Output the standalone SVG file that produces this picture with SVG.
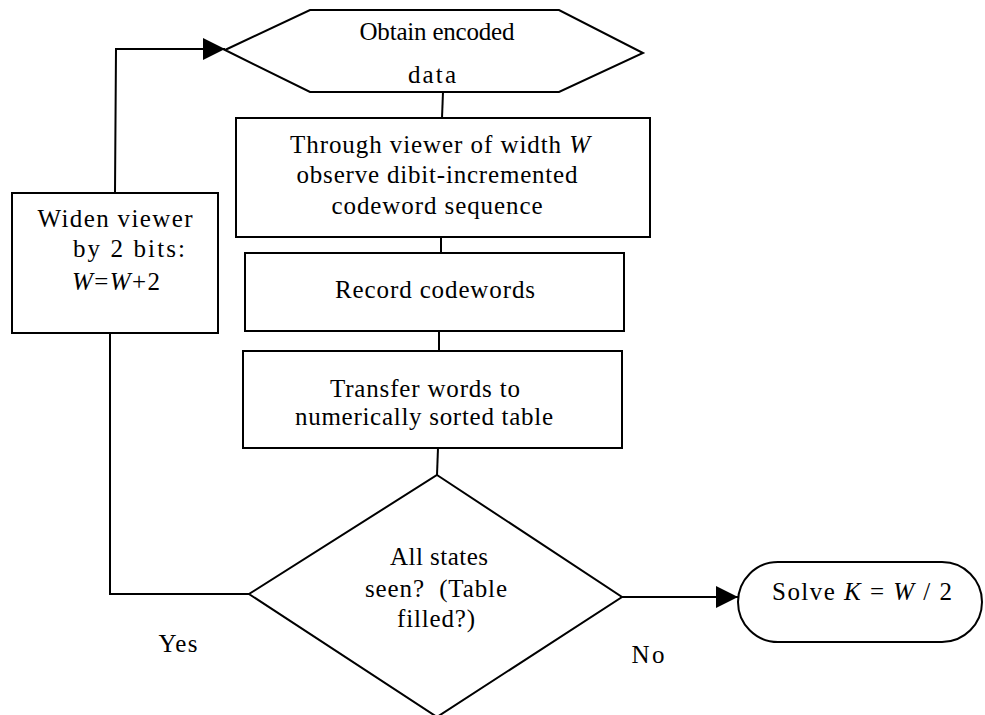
<svg xmlns="http://www.w3.org/2000/svg" width="985" height="715" viewBox="0 0 985 715">
<style>
.s{fill:#fff;stroke:#000;stroke-width:2}
.c{fill:none;stroke:#000;stroke-width:2}
text{font-family:"Liberation Serif","Times New Roman",serif;font-size:25px;fill:#000;text-anchor:middle}
.i{font-style:italic}
</style>
<defs>
<marker id="ah" markerWidth="22" markerHeight="22" viewBox="0 0 22 22" refX="22" refY="11" orient="auto" markerUnits="userSpaceOnUse">
<path d="M0,0 L22,11 L0,22 Z" fill="#000"/>
</marker>
</defs>
<rect width="985" height="715" fill="#fff"/>
<g id="connectors">
<line class="c" x1="443" y1="92" x2="442" y2="118"/>
<line class="c" x1="441" y1="237" x2="441" y2="253"/>
<line class="c" x1="439" y1="331" x2="439" y2="351"/>
<line class="c" x1="438" y1="448" x2="437" y2="475"/>
<polyline class="c" points="249,594 110,594 110,333"/>
<polyline class="c" points="115,193 116,49 225,49" marker-end="url(#ah)"/>
<line class="c" x1="622" y1="597" x2="738" y2="597" marker-end="url(#ah)"/>
<text x="178" y="652" textLength="39" lengthAdjust="spacing">Yes</text>
<text x="648" y="663" textLength="33" lengthAdjust="spacing">No</text>
</g>
<g id="obtain">
<polygon class="s" points="225,50 310,10 559,10 643,53 559,92 310,92"/>
<text x="437" y="40" textLength="155" lengthAdjust="spacing">Obtain encoded</text>
<text x="432" y="83" textLength="48" lengthAdjust="spacing">data</text>
</g>
<g id="observe">
<rect class="s" x="236" y="118" width="414" height="119"/>
<text x="440" y="153" textLength="300" lengthAdjust="spacing">Through viewer of width <tspan class="i">W</tspan></text>
<text x="437" y="183" textLength="281" lengthAdjust="spacing">observe dibit-incremented</text>
<text x="437" y="214" textLength="211" lengthAdjust="spacing">codeword sequence</text>
</g>
<g id="record">
<rect class="s" x="245" y="253" width="379" height="78"/>
<text x="435" y="298" textLength="200" lengthAdjust="spacing">Record codewords</text>
</g>
<g id="transfer">
<rect class="s" x="243" y="351" width="379" height="97"/>
<text x="425" y="397" textLength="190" lengthAdjust="spacing">Transfer words to</text>
<text x="424" y="425" textLength="258" lengthAdjust="spacing">numerically sorted table</text>
</g>
<g id="decision">
<polygon class="s" points="437,475 622,597 437,717 249,594"/>
<text x="439" y="565" textLength="98" lengthAdjust="spacing">All states</text>
<text x="436" y="597" textLength="142" lengthAdjust="spacing" xml:space="preserve">seen?  (Table</text>
<text x="436" y="627" textLength="78" lengthAdjust="spacing">filled?)</text>
</g>
<g id="widen">
<rect class="s" x="12" y="193" width="206" height="140"/>
<text x="115" y="227" textLength="155" lengthAdjust="spacing">Widen viewer</text>
<text x="129" y="257" textLength="112" lengthAdjust="spacing">by 2 bits:</text>
<text x="116" y="290" textLength="88" lengthAdjust="spacing"><tspan class="i">W</tspan>=<tspan class="i">W</tspan>+2</text>
</g>
<g id="solve">
<rect class="s" x="738" y="562" width="244" height="80" rx="40" ry="40"/>
<text x="862" y="600" textLength="180" lengthAdjust="spacing">Solve <tspan class="i">K</tspan> = <tspan class="i">W</tspan> / 2</text>
</g>
</svg>
